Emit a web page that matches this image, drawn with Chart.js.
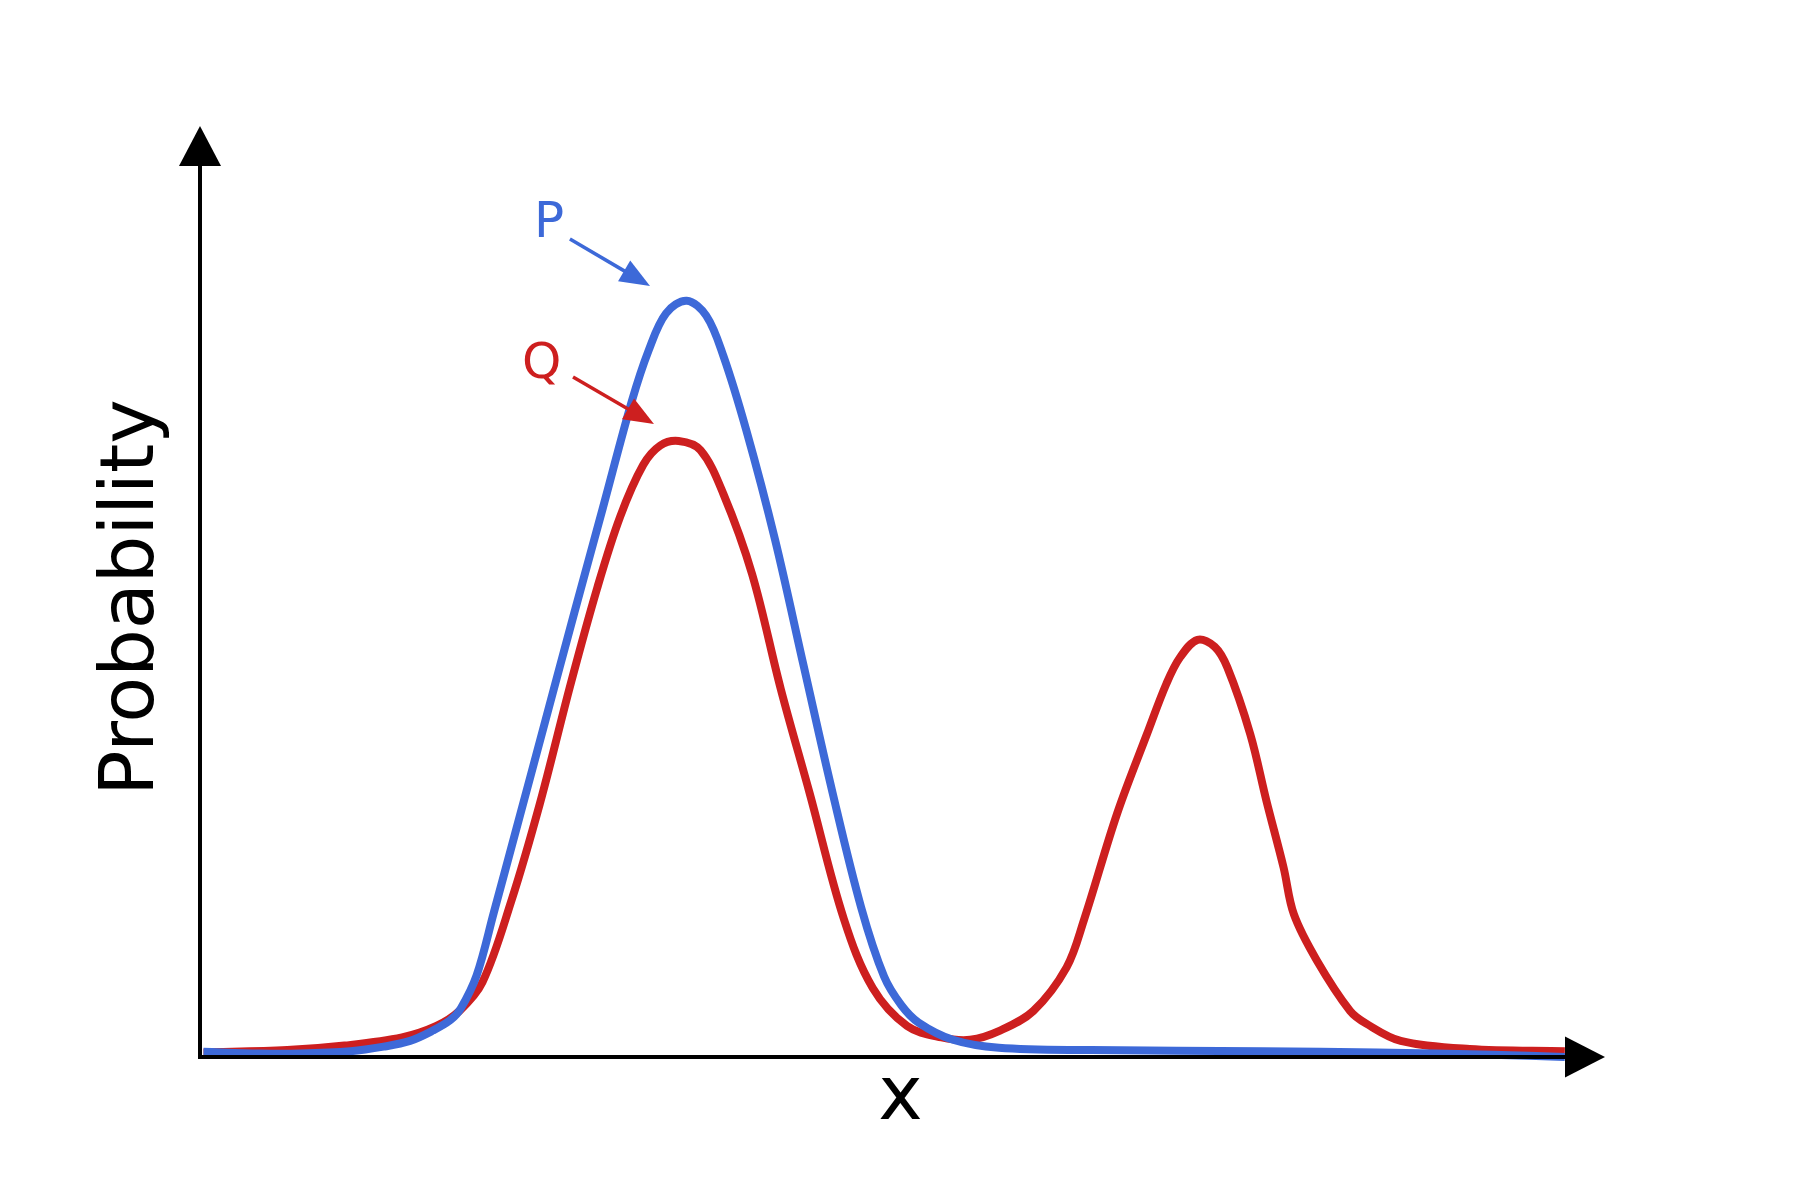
<!DOCTYPE html>
<html>
<head>
<meta charset="utf-8">
<script src="https://cdn.jsdelivr.net/npm/chart.js@4.4.0/dist/chart.umd.min.js"></script>
<style>
  html, body { margin: 0; padding: 0; background: #ffffff; }
</style>
</head>
<body>
<canvas id="chart" width="1800" height="1200"></canvas>
<script>
// ===== Data: x along the axis (0..10), y as probability (0..1) =====
const pX = [0.025, 0.425, 0.711, 1.070, 1.307, 1.495, 1.658, 1.781, 1.855, 1.969, 2.092,
            2.255, 2.459, 2.663, 2.868, 3.072, 3.194, 3.317, 3.464, 3.603, 3.725, 3.889, 4.093,
            4.297, 4.502, 4.706, 4.869, 4.992, 5.114, 5.359, 5.686, 6.340, 7.565, 8.382, 9.199, 9.714];
const pY = [0.0056, 0.0037, 0.0037, 0.0062, 0.0111, 0.0173, 0.0284, 0.0395, 0.0519, 0.0877, 0.1556,
            0.2469, 0.3617, 0.4765, 0.5901, 0.7037, 0.7593, 0.7988, 0.8123, 0.7963, 0.7531, 0.6728, 0.5556,
            0.4198, 0.2840, 0.1605, 0.0864, 0.0556, 0.0370, 0.0185, 0.0099, 0.0074, 0.0062, 0.0049, 0.0025, 0.0];

const qX = [0.025, 0.621, 1.029, 1.438, 1.683, 1.846, 2.010, 2.214, 2.418, 2.639, 2.827, 2.990,
            3.154, 3.276, 3.407, 3.562, 3.725, 3.930, 4.134, 4.338, 4.583, 4.788, 5.033, 5.278,
            5.482, 5.694, 5.931, 6.168, 6.291, 6.528, 6.740, 6.879, 6.977, 7.100, 7.222, 7.312,
            7.475, 7.590, 7.712, 7.786, 7.949, 8.186, 8.301, 8.546, 9.036, 9.714];
const qY = [0.0049, 0.0074, 0.0123, 0.0210, 0.0333, 0.0494, 0.0802, 0.1667, 0.2716, 0.4012, 0.5037, 0.5802,
            0.6358, 0.6568, 0.6617, 0.6519, 0.6049, 0.5185, 0.3951, 0.2840, 0.1481, 0.0741, 0.0333, 0.0210,
            0.0185, 0.0284, 0.0494, 0.0963, 0.1469, 0.2617, 0.3469, 0.4012, 0.4296, 0.4481, 0.4407, 0.4185,
            0.3469, 0.2753, 0.2037, 0.1531, 0.1037, 0.0494, 0.0358, 0.0173, 0.0086, 0.0062];

const seriesNames = ["P", "Q"];
const xTitle = "x";
const yTitle = "Probability";

const BLUE = "#3d69d8";
const RED = "#cd1f1f";
const FONT = "'DejaVu Sans', sans-serif";

// label + arrow per series, in data coordinates
const notes = [
  { text: seriesNames[0], color: BLUE, labelAt: [2.377, 0.8808], tail: [2.633, 0.8786], tip: [3.203, 0.8281] },
  { text: seriesNames[1], color: RED,  labelAt: [2.292, 0.7293], tail: [2.655, 0.7304], tip: [3.231, 0.6799] }
];

function toPoints(xs, ys) {
  return xs.map((v, i) => ({ x: v, y: ys[i] }));
}

function arrowHead(ctx, tx, ty, fx, fy, len, half) {
  const ang = Math.atan2(ty - fy, tx - fx);
  const bx = tx - len * Math.cos(ang);
  const by = ty - len * Math.sin(ang);
  ctx.beginPath();
  ctx.moveTo(tx, ty);
  ctx.lineTo(bx + half * Math.sin(ang), by - half * Math.cos(ang));
  ctx.lineTo(bx - half * Math.sin(ang), by + half * Math.cos(ang));
  ctx.closePath();
  ctx.fill();
}

// ===== Axes with arrow heads, titles and the P / Q pointers =====
const decorations = {
  id: "decorations",
  afterDatasetsDraw(chart) {
    const { ctx, scales: { x, y } } = chart;
    const x0 = x.getPixelForValue(0);
    const y0 = y.getPixelForValue(0);
    const xEnd = x.getPixelForValue(x.max);
    const yEnd = y.getPixelForValue(y.max);

    ctx.save();
    ctx.strokeStyle = "#000";
    ctx.fillStyle = "#000";
    ctx.lineWidth = 4;
    ctx.beginPath();
    ctx.moveTo(x0 - 2, y0);
    ctx.lineTo(xEnd - 38, y0);
    ctx.moveTo(x0, y0 + 2);
    ctx.lineTo(x0, yEnd + 38);
    ctx.stroke();
    arrowHead(ctx, xEnd, y0, x0, y0, 40, 20.5);
    arrowHead(ctx, x0, yEnd, x0, y0, 40, 21);

    // axis titles
    ctx.font = "75px " + FONT;
    ctx.textAlign = "center";
    ctx.textBaseline = "alphabetic";
    ctx.fillText(xTitle, (x0 + xEnd) / 2 - 2, y0 + 62);
    ctx.save();
    ctx.translate(x0 - 47, (y0 + yEnd) / 2 + 6);
    ctx.rotate(-Math.PI / 2);
    ctx.fillText(yTitle, 0, 0);
    ctx.restore();

    // series pointers
    notes.forEach(n => {
      ctx.fillStyle = n.color;
      ctx.strokeStyle = n.color;
      ctx.font = "50px " + FONT;
      ctx.textAlign = "left";
      ctx.fillText(n.text, x.getPixelForValue(n.labelAt[0]), y.getPixelForValue(n.labelAt[1]));
      const tx = x.getPixelForValue(n.tip[0]), ty = y.getPixelForValue(n.tip[1]);
      const fx = x.getPixelForValue(n.tail[0]), fy = y.getPixelForValue(n.tail[1]);
      const ang = Math.atan2(ty - fy, tx - fx);
      ctx.lineWidth = 3.5;
      ctx.beginPath();
      ctx.moveTo(fx, fy);
      ctx.lineTo(tx - 25 * Math.cos(ang), ty - 25 * Math.sin(ang));
      ctx.stroke();
      arrowHead(ctx, tx, ty, fx, fy, 30, 12);
    });
    ctx.restore();
  }
};

new Chart(document.getElementById("chart"), {
  type: "line",
  data: {
    datasets: [
      {
        label: seriesNames[0],
        data: toPoints(pX, pY),
        borderColor: BLUE,
        borderWidth: 8,
        pointRadius: 0,
        tension: 0.35,
        clip: false,
        order: 0
      },
      {
        label: seriesNames[1],
        data: toPoints(qX, qY),
        borderColor: RED,
        borderWidth: 8,
        pointRadius: 0,
        tension: 0.35,
        clip: false,
        order: 1
      }
    ]
  },
  options: {
    responsive: false,
    devicePixelRatio: 1,
    animation: false,
    layout: { padding: { left: 200, right: 195, top: 126, bottom: 143 } },
    scales: {
      x: { type: "linear", min: 0, max: 10, display: false },
      y: { min: 0, max: 1, display: false }
    },
    plugins: {
      legend: { display: false },
      tooltip: { enabled: false }
    }
  },
  plugins: [decorations]
});
</script>
</body>
</html>
